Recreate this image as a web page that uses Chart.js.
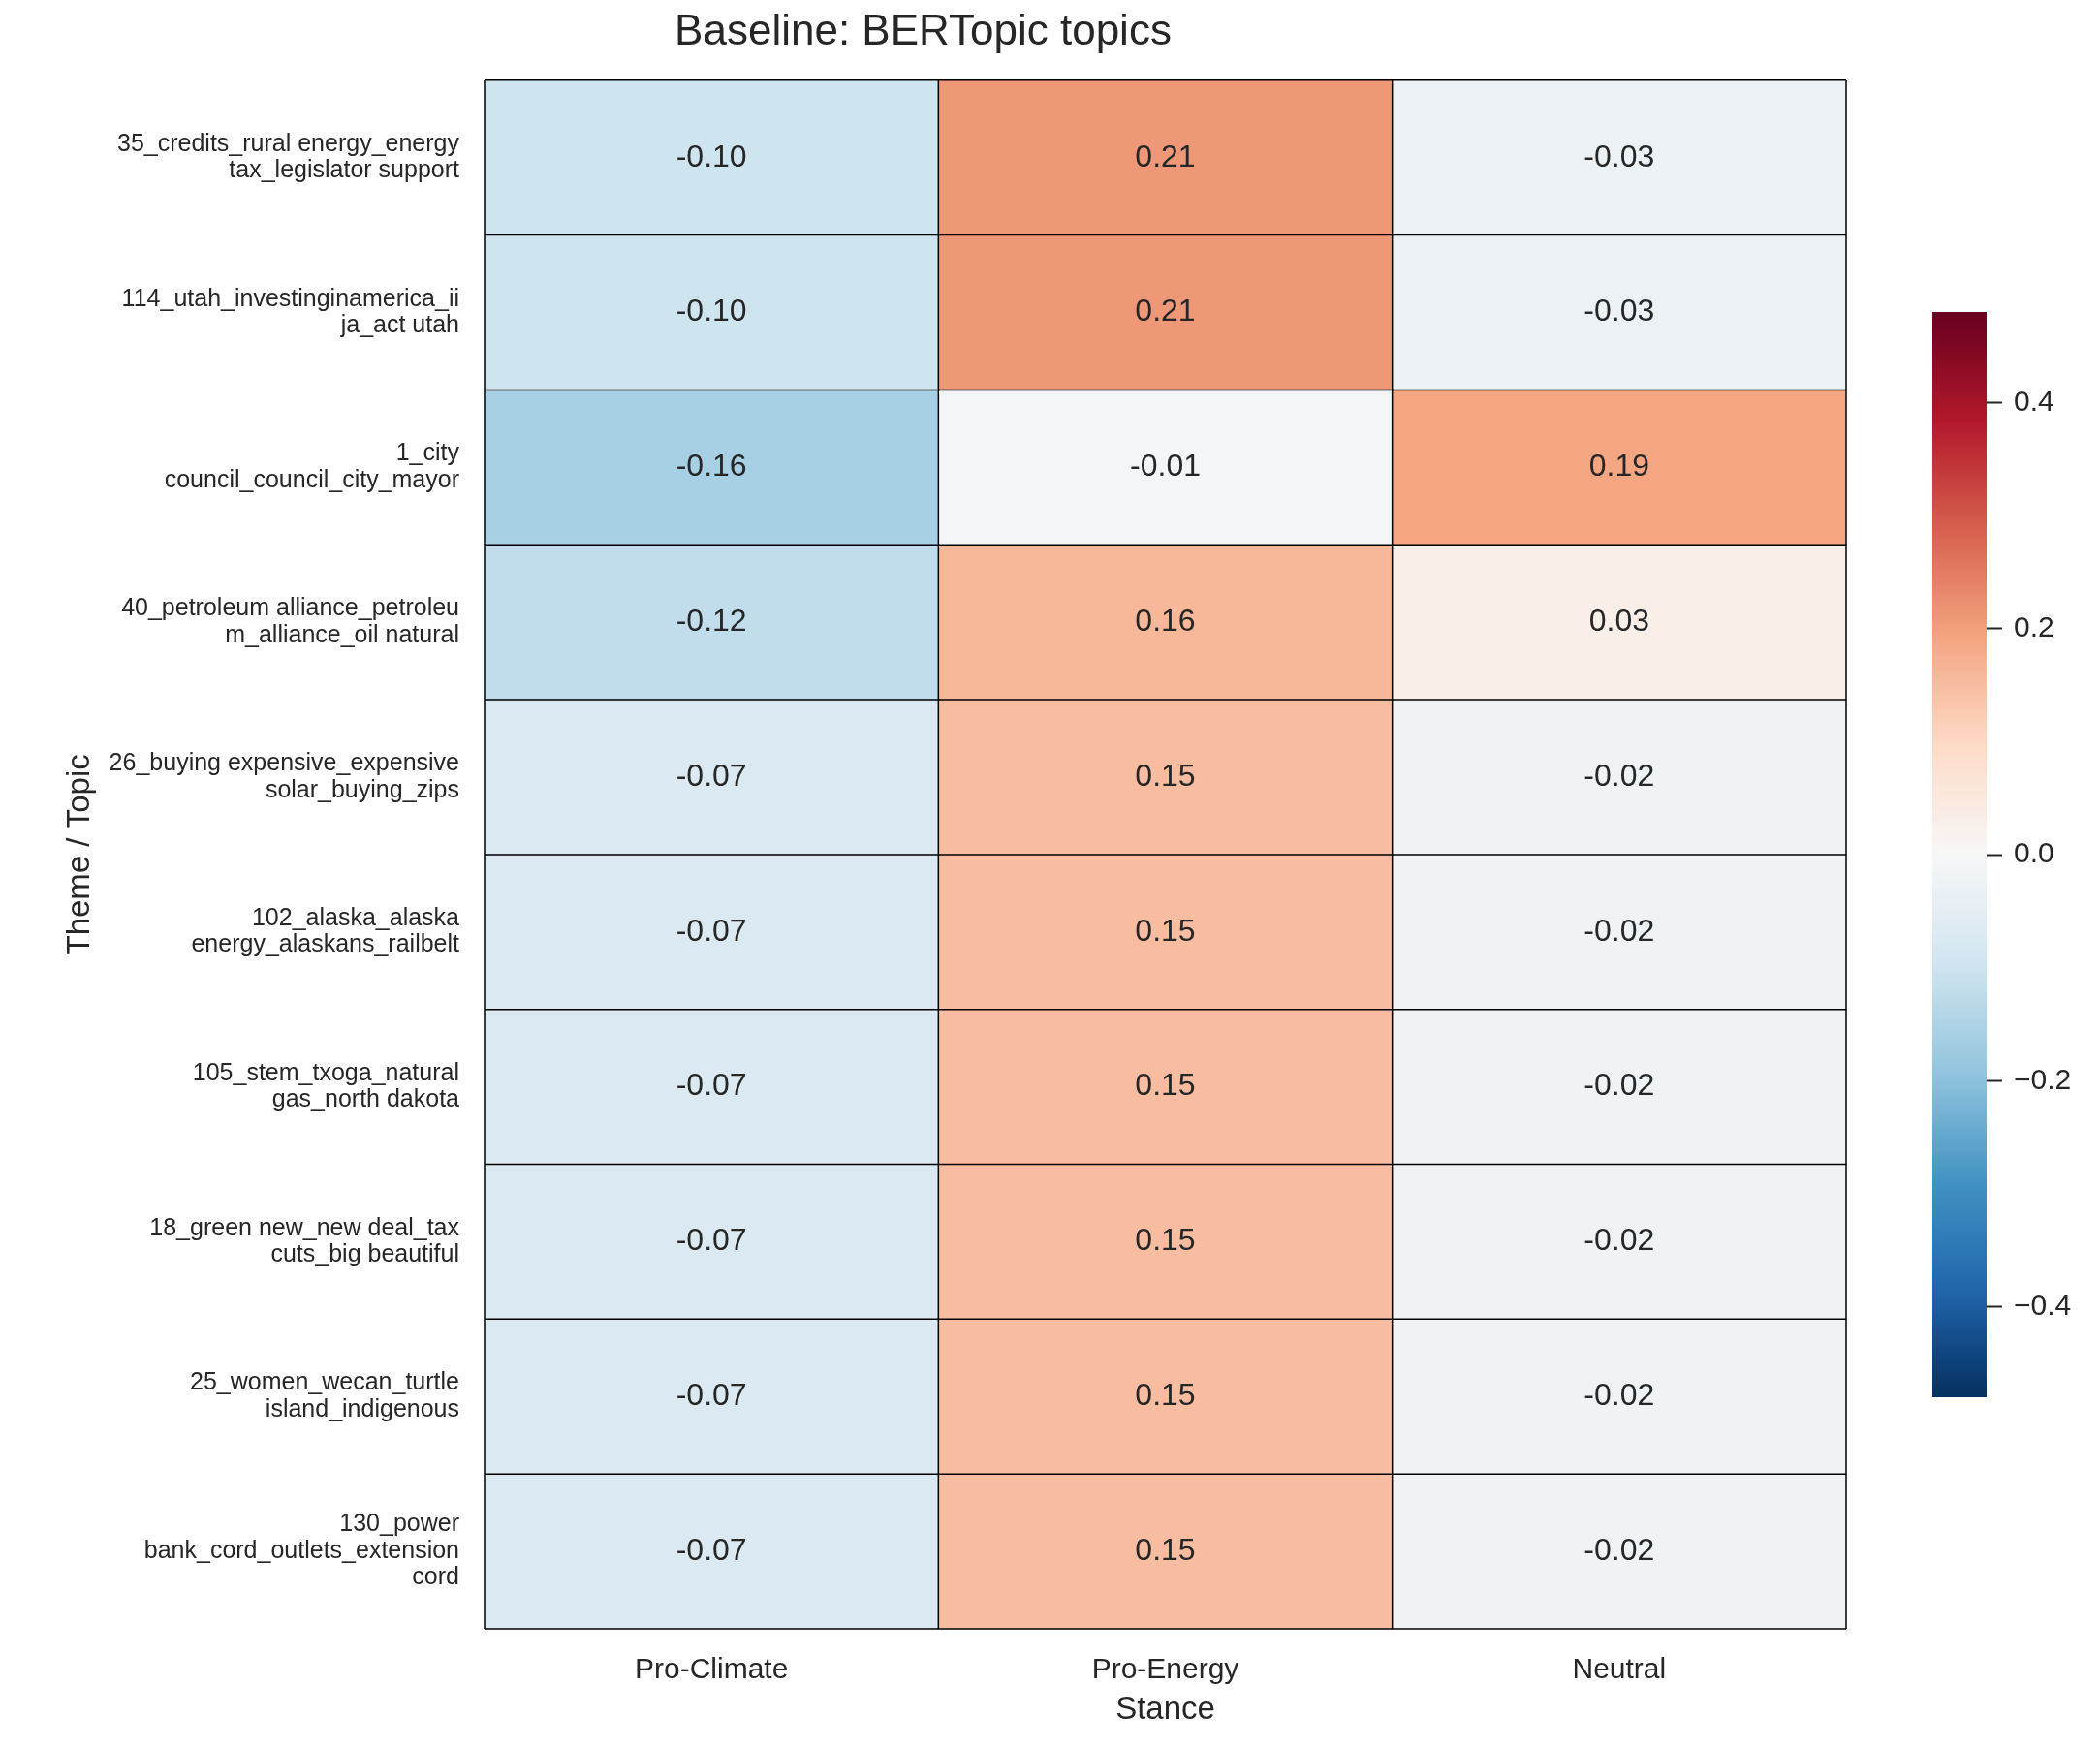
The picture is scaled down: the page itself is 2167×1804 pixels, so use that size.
<!DOCTYPE html>
<html>
<head>
<meta charset="utf-8">
<script src="https://cdn.jsdelivr.net/npm/chart.js@4.4.1/dist/chart.umd.min.js"></script>
<style>
  html, body { margin: 0; padding: 0; background: #ffffff; }
  #wrap { position: relative; width: 2167px; height: 1804px; }
  #heat { position: absolute; left: 0; top: 0; }
  #cbar { position: absolute; left: 1994px; top: 292px; }
</style>
</head>
<body>
<div id="wrap">
  <canvas id="heat" width="2167" height="1804"></canvas>
  <canvas id="cbar" width="173" height="1180"></canvas>
</div>
<script>
// topics (rows), already wrapped like the original
const topics = [
    ["35_credits_rural energy_energy", "tax_legislator support"],
    ["114_utah_investinginamerica_ii", "ja_act utah"],
    ["1_city", "council_council_city_mayor"],
    ["40_petroleum alliance_petroleu", "m_alliance_oil natural"],
    ["26_buying expensive_expensive", "solar_buying_zips"],
    ["102_alaska_alaska", "energy_alaskans_railbelt"],
    ["105_stem_txoga_natural", "gas_north dakota"],
    ["18_green new_new deal_tax", "cuts_big beautiful"],
    ["25_women_wecan_turtle", "island_indigenous"],
    ["130_power", "bank_cord_outlets_extension", "cord"]
];
const stances = ["Pro-Climate", "Pro-Energy", "Neutral"];

const proClimate = [-0.10, -0.10, -0.16, -0.12, -0.07, -0.07, -0.07, -0.07, -0.07, -0.07];
const proEnergy  = [0.21, 0.21, -0.01, 0.16, 0.15, 0.15, 0.15, 0.15, 0.15, 0.15];
const neutral    = [-0.03, -0.03, 0.19, 0.03, -0.02, -0.02, -0.02, -0.02, -0.02, -0.02];

const colorbarTicks = [0.4, 0.2, 0.0, -0.2, -0.4];
const vmin = -0.48, vmax = 0.48;

// RdBu_r stops (low -> high)
const rdbu = ["#053061", "#2166ac", "#4393c3", "#92c5de", "#d1e5f0", "#f7f7f7",
              "#fddbc7", "#f4a582", "#d6604d", "#b2182b", "#67001f"];

function hexRgb(h) {
    return [parseInt(h.slice(1, 3), 16), parseInt(h.slice(3, 5), 16), parseInt(h.slice(5, 7), 16)];
}
function cmap(v) {
    let t = (v - vmin) / (vmax - vmin);
    t = Math.max(0, Math.min(1, t)) * (rdbu.length - 1);
    const i = Math.min(Math.floor(t), rdbu.length - 2);
    const f = t - i;
    const a = hexRgb(rdbu[i]), b = hexRgb(rdbu[i + 1]);
    const c = a.map((x, k) => Math.round(x + (b[k] - x) * f));
    return `rgb(${c[0]},${c[1]},${c[2]})`;
}

const columns = [proClimate, proEnergy, neutral];
const FONT = "'Liberation Sans', Arial, sans-serif";
const INK = "#262626";

const datasets = topics.map((t, i) => ({
    label: t.join(" "),
    data: stances.map(() => [i, i + 1]),
    values: columns.map(col => col[i]),
    backgroundColor: columns.map(col => cmap(col[i])),
    borderWidth: 0,
    inflateAmount: 0.5,
    grouped: false,
    barPercentage: 1,
    categoryPercentage: 1
}));

// cell separators, outer frame and cell values
const annotate = {
    id: "annotate",
    afterDatasetsDraw(chart) {
        const ctx = chart.ctx;
        const a = chart.chartArea;
        const xs = chart.scales.x, ys = chart.scales.y;
        ctx.save();
        ctx.strokeStyle = "#000000";
        ctx.lineWidth = 1.5;
        ctx.beginPath();
        for (let i = 0; i <= topics.length; i++) {
            const y = ys.getPixelForValue(i);
            ctx.moveTo(a.left, y);
            ctx.lineTo(a.right, y);
        }
        for (let j = 0; j <= stances.length; j++) {
            const x = xs.getPixelForValue(j - 0.5);
            ctx.moveTo(x, a.top);
            ctx.lineTo(x, a.bottom);
        }
        ctx.stroke();
        ctx.font = "32px " + FONT;
        ctx.fillStyle = INK;
        ctx.textAlign = "center";
        ctx.textBaseline = "middle";
        chart.data.datasets.forEach((ds, i) => {
            chart.getDatasetMeta(i).data.forEach((bar, j) => {
                ctx.fillText(ds.values[j].toFixed(2), bar.x, (bar.y + bar.base) / 2);
            });
        });
        ctx.restore();
    }
};

new Chart(document.getElementById("heat"), {
    type: "bar",
    data: { labels: stances, datasets: datasets },
    plugins: [annotate],
    options: {
        responsive: false,
        animation: false,
        layout: { padding: { left: 0, right: 262, top: 0, bottom: 0 } },
        plugins: {
            legend: { display: false },
            tooltip: { enabled: false },
            title: {
                display: true,
                text: "Baseline: BERTopic topics",
                color: INK,
                font: { family: FONT, size: 44, weight: "normal" },
                padding: { top: 7, bottom: 23 }
            }
        },
        scales: {
            x: {
                grid: { display: false },
                border: { display: false },
                ticks: { color: INK, font: { family: FONT, size: 30 }, padding: 17 },
                title: {
                    display: true, text: "Stance", color: INK,
                    font: { family: FONT, size: 33 },
                    padding: { top: 0, bottom: 19 }
                },
                afterFit(scale) { scale.height = 123; }
            },
            y: {
                type: "linear",
                min: 0,
                max: topics.length,
                reverse: true,
                grid: { display: false },
                border: { display: false },
                afterBuildTicks(scale) {
                    scale.ticks = topics.map((t, i) => ({ value: i + 0.5 }));
                },
                ticks: {
                    color: INK,
                    font: { family: FONT, size: 25, lineHeight: 1.1 },
                    padding: 18,
                    autoSkip: false,
                    callback: (value) => topics[Math.floor(value)]
                },
                title: {
                    display: true, text: "Theme / Topic", color: INK,
                    font: { family: FONT, size: 33 },
                    padding: { top: 63, bottom: 0 }
                },
                afterFit(scale) { scale.width = 500; }
            }
        }
    }
});

// colorbar: a single floating bar spanning the value range, on its own linear axis
new Chart(document.getElementById("cbar"), {
    type: "bar",
    data: {
        labels: [""],
        datasets: [{
            data: [[vmin, vmax]],
            borderWidth: 0,
            inflateAmount: 0,
            barPercentage: 1,
            categoryPercentage: 1,
            backgroundColor(context) {
                const { chart } = context;
                const area = chart.chartArea;
                if (!area) return null;
                const g = chart.ctx.createLinearGradient(0, area.bottom, 0, area.top);
                rdbu.forEach((c, k) => g.addColorStop(k / (rdbu.length - 1), c));
                return g;
            }
        }]
    },
    options: {
        responsive: false,
        animation: false,
        layout: { padding: { left: 0, right: 0, top: 30, bottom: 30 } },
        plugins: { legend: { display: false }, tooltip: { enabled: false } },
        scales: {
            x: { display: false },
            y: {
                position: "right",
                min: vmin,
                max: vmax,
                border: { display: false },
                grid: {
                    display: true, drawOnChartArea: false, drawTicks: true,
                    tickLength: 16, tickWidth: 2, tickColor: INK
                },
                afterBuildTicks(scale) {
                    scale.ticks = colorbarTicks.map(v => ({ value: v }));
                },
                ticks: {
                    color: INK,
                    font: { family: FONT, size: 30 },
                    padding: 12,
                    callback: (v) => (v < 0 ? "\u2212" : "") + Math.abs(v).toFixed(1)
                },
                afterFit(scale) { scale.width = 117; }
            }
        }
    }
});
</script>
</body>
</html>
